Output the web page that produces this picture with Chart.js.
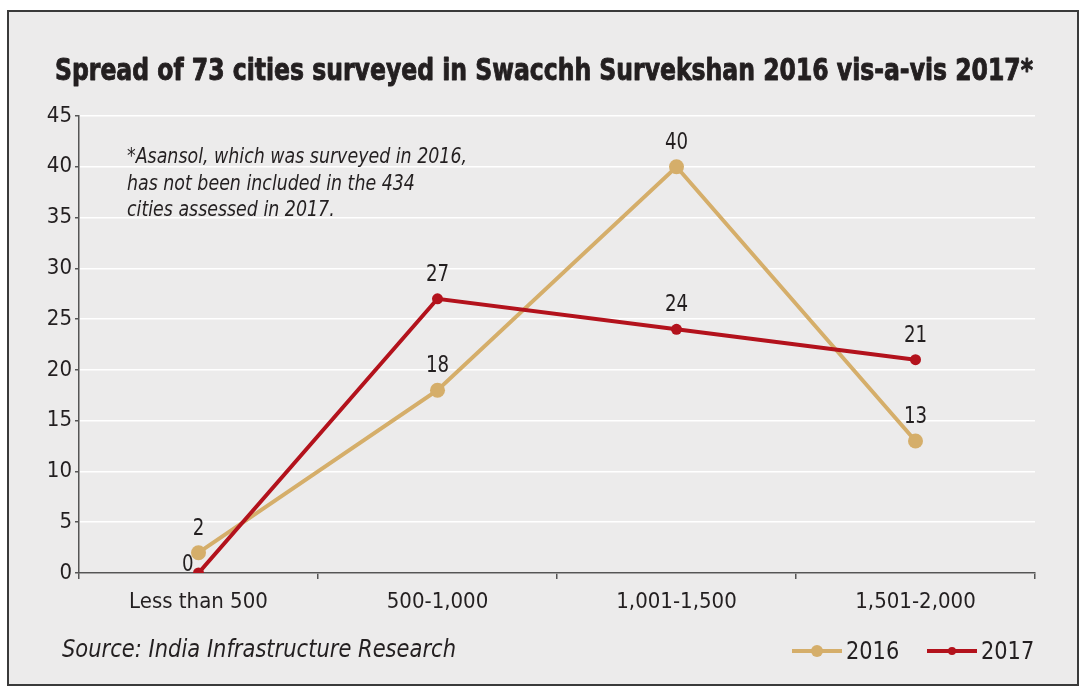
<!DOCTYPE html>
<html>
<head>
<meta charset="utf-8">
<script src="https://cdn.jsdelivr.net/npm/chart.js@4.4.1/dist/chart.umd.min.js"></script>
<style>
  html, body { margin: 0; padding: 0; background: #ffffff; }
  #wrap { width: 1086px; height: 694px; position: relative; }
</style>
</head>
<body>
<div id="wrap"><canvas id="c" width="1086" height="694"></canvas></div>
<script>
// ---- data ----
const categories = ["Less than 500", "500-1,000", "1,001-1,500", "1,501-2,000"];
const values2016 = [2, 18, 40, 13];
const values2017 = [0, 27, 24, 21];
const seriesNames = ["2016", "2017"];
const titleText = "Spread of 73 cities surveyed in Swacchh Survekshan 2016 vis-a-vis 2017*";
const noteLines = ["*Asansol, which was surveyed in 2016,", "has not been included in the 434", "cities assessed in 2017."];
const sourceText = "Source: India Infrastructure Research";

// ---- styles ----
const NARROW = "'Liberation Sans Narrow', 'Arial Narrow', 'DejaVu Sans Condensed', sans-serif";
const TEXT = "#231f20";
const AXIS = "#555555";
const TAN = "#d5ae6a";
const RED = "#b3121c";
const BG = "#ecebeb";

// draw text compressed horizontally by factor sx
function drawScaled(ctx, text, x, y, sx, align, stroke) {
  const w = ctx.measureText(text).width * sx;
  let x0 = x;
  if (align === 'center') x0 = x - w / 2;
  else if (align === 'right') x0 = x - w;
  ctx.save();
  ctx.textAlign = 'left';
  ctx.translate(x0, y);
  ctx.scale(sx, 1);
  if (stroke) ctx.strokeText(text, 0, 0);
  ctx.fillText(text, 0, 0);
  ctx.restore();
}

const framePlugin = {
  id: 'frame',
  beforeDraw(chart) {
    const ctx = chart.ctx;
    ctx.save();
    ctx.fillStyle = '#ffffff';
    ctx.fillRect(0, 0, chart.width, chart.height);
    ctx.fillStyle = BG;
    ctx.fillRect(8, 11, 1070, 674);
    ctx.strokeStyle = '#3a3a3a';
    ctx.lineWidth = 2;
    ctx.strokeRect(8, 11, 1070, 674);
    ctx.restore();
  },
  afterDraw(chart) {
    const ctx = chart.ctx;
    ctx.save();
    ctx.textBaseline = 'alphabetic';
    // title, fitted to the width of the plot
    ctx.fillStyle = TEXT;
    ctx.strokeStyle = TEXT;
    ctx.font = "bold 31px " + NARROW;
    ctx.lineWidth = 0.9;
    ctx.lineJoin = 'round';
    const tw = ctx.measureText(titleText).width;
    drawScaled(ctx, titleText, 55, 80, 978 / tw, 'left', true);

    // note
    ctx.font = "italic 22px " + NARROW;
    const ns = 340 / ctx.measureText(noteLines[0]).width;
    noteLines.forEach((ln, i) => drawScaled(ctx, ln, 127, 163 + i * 26.5, ns, 'left'));

    // source
    ctx.font = "italic 25px " + NARROW;
    const ss = 394 / ctx.measureText(sourceText).width;
    drawScaled(ctx, sourceText, 62, 657, ss, 'left');

    // legend
    const items = [
      { x: 792, color: TAN, r: 6, label: seriesNames[0] },
      { x: 927, color: RED, r: 4, label: seriesNames[1] }
    ];
    const ly = 651;
    items.forEach(it => {
      ctx.strokeStyle = it.color;
      ctx.lineWidth = 4;
      ctx.beginPath();
      ctx.moveTo(it.x, ly);
      ctx.lineTo(it.x + 50, ly);
      ctx.stroke();
      ctx.fillStyle = it.color;
      ctx.beginPath();
      ctx.arc(it.x + 25, ly, it.r, 0, Math.PI * 2);
      ctx.fill();
      ctx.fillStyle = TEXT;
      ctx.font = "25px " + NARROW;
      drawScaled(ctx, it.label, it.x + 54, 659, 0.93, 'left');
    });
    ctx.restore();
  }
};

const labelPlugin = {
  id: 'valueLabels',
  afterDatasetsDraw(chart) {
    const ctx = chart.ctx;
    ctx.save();
    ctx.fillStyle = TEXT;
    ctx.font = "23px " + NARROW;
    ctx.textBaseline = 'alphabetic';
    chart.data.datasets.forEach((ds, di) => {
      const meta = chart.getDatasetMeta(di);
      meta.data.forEach((pt, i) => {
        const v = ds.data[i];
        if (v === 0) {
          drawScaled(ctx, String(v), pt.x - 5, pt.y - 2, 0.88, 'right');
        } else {
          drawScaled(ctx, String(v), pt.x, pt.y - 18, 0.88, 'center');
        }
      });
    });
    ctx.restore();
  }
};

new Chart(document.getElementById('c'), {
  type: 'line',
  data: {
    labels: categories,
    datasets: [
      {
        label: seriesNames[0], data: values2016,
        borderColor: TAN, backgroundColor: TAN,
        borderWidth: 4, pointRadius: 7.5, pointHoverRadius: 7.5,
        pointBorderWidth: 0, tension: 0, order: 1
      },
      {
        label: seriesNames[1], data: values2017,
        borderColor: RED, backgroundColor: RED,
        borderWidth: 4, pointRadius: 5.5, pointHoverRadius: 5.5,
        pointBorderWidth: 0, tension: 0, order: 0
      }
    ]
  },
  options: {
    responsive: false,
    animation: false,
    devicePixelRatio: 1,
    layout: { padding: { left: 0, right: 51, top: 116, bottom: 0 } },
    plugins: { legend: { display: false }, title: { display: false }, tooltip: { enabled: false } },
    scales: {
      x: {
        type: 'category',
        offset: true,
        afterFit(scale) { scale.height = 121; },
        grid: { display: true, drawOnChartArea: false, drawTicks: true, tickLength: 6, tickColor: AXIS, lineWidth: 1.5, offset: true },
        border: { color: AXIS, width: 1.5 },
        ticks: { color: TEXT, font: { family: NARROW, size: 22 }, padding: 10, maxRotation: 0, autoSkip: false }
      },
      y: {
        min: 0, max: 45,
        afterFit(scale) { scale.width = 79; },
        grid: { color: '#ffffff', lineWidth: 1.5, drawTicks: true, tickLength: 4, tickColor: AXIS },
        border: { color: AXIS, width: 1.5 },
        ticks: { stepSize: 5, color: TEXT, font: { family: NARROW, size: 22 }, padding: 3 }
      }
    }
  },
  plugins: [framePlugin, labelPlugin]
});
</script>
</body>
</html>
